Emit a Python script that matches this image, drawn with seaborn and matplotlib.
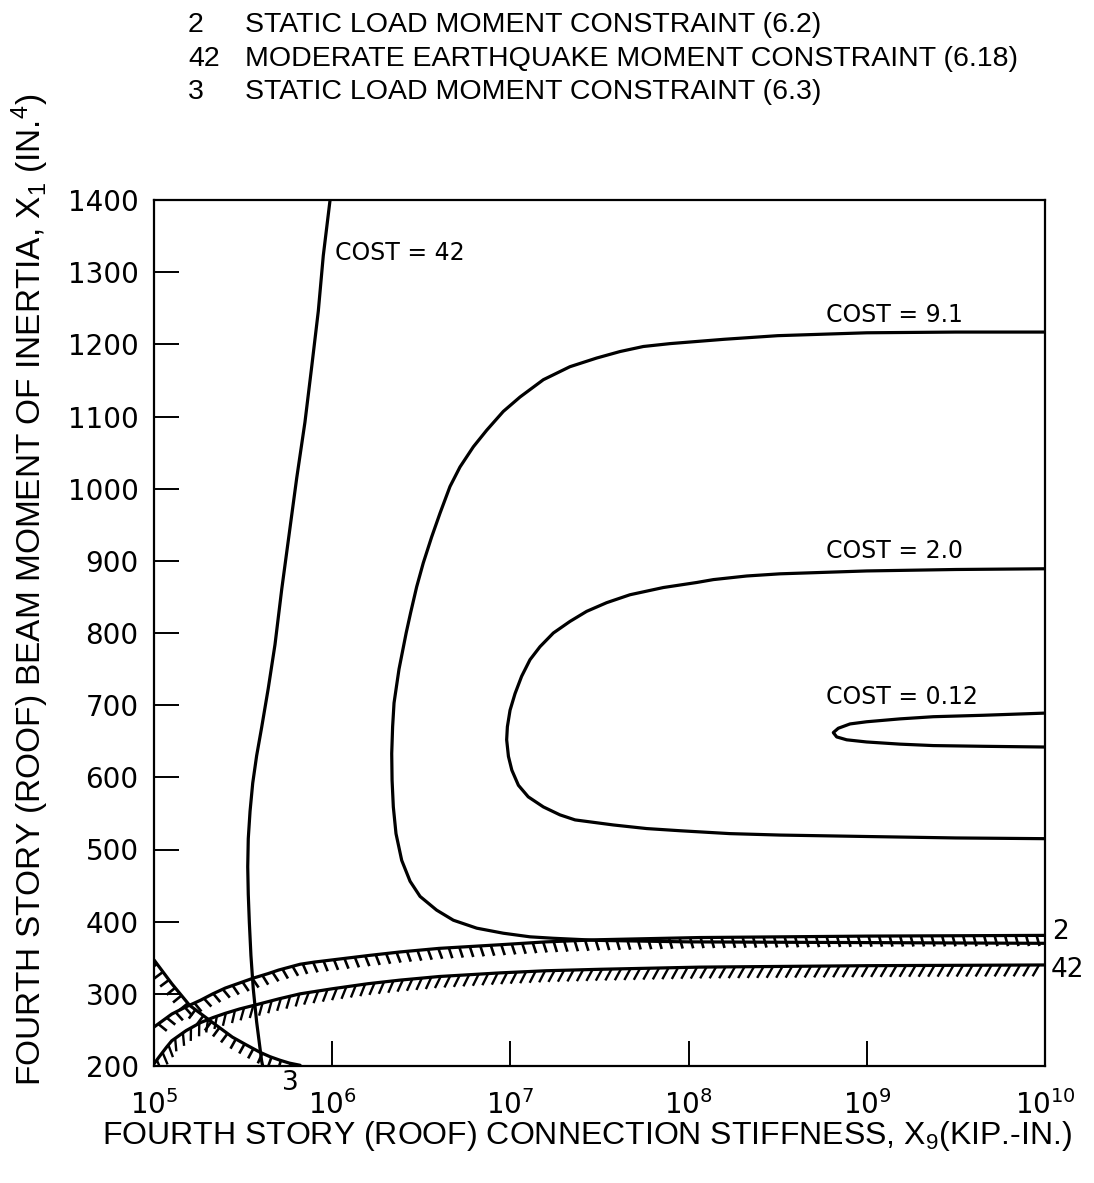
import numpy as np
import matplotlib
matplotlib.use("Agg")
import matplotlib.pyplot as plt
import matplotlib.transforms as mtransforms
from matplotlib.collections import LineCollection
import seaborn as sns

# ---------------- data (x given as log10 of stiffness) ----------------
cost42_logx = [5.61, 5.604, 5.576, 5.557, 5.544, 5.535, 5.529, 5.526, 5.529, 5.539, 5.554,
               5.576, 5.604, 5.641, 5.679, 5.717, 5.759, 5.801, 5.847, 5.885, 5.922, 5.95, 5.988]
cost42_y = [200, 207, 261, 307, 353, 399, 438, 476, 515, 553, 592,
            630, 669, 723, 784, 861, 938, 1015, 1092, 1169, 1246, 1323, 1400]

cost91_logx = [10.0, 9.5, 9.0, 8.5, 8.2, 7.896, 7.746, 7.615, 7.484, 7.334, 7.185, 7.054,
               6.96, 6.867, 6.792, 6.717, 6.661, 6.605, 6.558, 6.511, 6.474, 6.44, 6.415,
               6.395, 6.375, 6.36, 6.347, 6.339, 6.334, 6.336, 6.343, 6.358, 6.39, 6.437,
               6.493, 6.586, 6.68, 6.811, 6.96, 7.11, 7.241, 7.5, 8.0, 9.0, 10.0]
cost91_y = [1217, 1217, 1216, 1212, 1207, 1201, 1197, 1190, 1181, 1169, 1151, 1127,
            1107, 1081, 1058, 1030, 1003, 966, 933, 897, 864, 828, 800,
            775, 750, 725, 703, 670, 633, 596, 559, 522, 485, 456,
            435, 416, 402, 391, 384, 379, 377, 374, 372, 371, 370]

cost20_logx = [10.0, 9.5, 9.0, 8.513, 8.326, 8.139, 8.046, 7.858, 7.671, 7.54, 7.428, 7.334,
               7.241, 7.166, 7.11, 7.063, 7.026, 6.998, 6.983, 6.979, 6.989, 7.008, 7.045,
               7.1, 7.185, 7.278, 7.363, 7.578, 7.765, 7.952, 8.232, 8.513, 9.0, 9.5, 10.0]
cost20_y = [889, 888, 886, 882, 879, 874, 870, 863, 853, 842, 830, 816,
            800, 781, 763, 740, 716, 693, 670, 652, 629, 610, 589,
            573, 559, 548, 541, 534, 529, 526, 522, 520, 518, 516, 515]

cost012_logx = [10.0, 9.654, 9.373, 9.186, 8.999, 8.906, 8.84, 8.812, 8.831, 8.887, 8.999,
                9.186, 9.373, 9.654, 10.0]
cost012_y = [689, 686, 684, 681, 677, 674, 668, 662, 656, 652, 649, 646, 644, 643, 642]

con2_logx = [5.0, 5.05, 5.1, 5.18, 5.26, 5.33, 5.4, 5.48, 5.56, 5.64, 5.7, 5.82, 5.9, 6.0,
             6.2, 6.38, 6.6, 6.94, 7.2, 7.5, 8.06, 9.0, 10.0]
con2_y = [254, 263, 272, 282, 291, 300, 308, 315, 322, 328, 333, 341, 344, 347,
          353, 358, 363, 368, 372, 375, 378, 380, 381]

con42_logx = [5.0, 5.03, 5.07, 5.1, 5.18, 5.26, 5.33, 5.4, 5.48, 5.56, 5.7, 5.82, 6.0, 6.2,
              6.38, 6.6, 6.94, 7.2, 7.5, 8.06, 9.0, 10.0]
con42_y = [203, 213, 226, 235, 249, 260, 267, 273, 279, 284, 293, 300, 307, 314,
           319, 324, 329, 332, 334, 337, 339, 340]

con3_logx = [5.0, 5.1, 5.2, 5.33, 5.44, 5.52, 5.595, 5.65, 5.707, 5.76, 5.82]
con3_y = [347, 314, 284, 260, 240, 229, 219, 213, 208, 204, 201]

x_tick_exp = [5, 6, 7, 8, 9, 10]
y_ticks = [200, 300, 400, 500, 600, 700, 800, 900, 1000, 1100, 1200, 1300, 1400]

legend_nums = ["2", "42", "3"]
legend_texts = ["STATIC LOAD MOMENT CONSTRAINT (6.2)",
                "MODERATE EARTHQUAKE MOMENT CONSTRAINT (6.18)",
                "STATIC LOAD MOMENT CONSTRAINT (6.3)"]

# ---------------- style ----------------
sns.set_theme(style="white")
plt.rcParams['font.family'] = ['DejaVu Sans']
plt.rcParams['mathtext.default'] = 'regular'
plt.rcParams['text.color'] = 'black'
plt.rcParams['axes.labelcolor'] = 'black'
plt.rcParams['xtick.color'] = 'black'
plt.rcParams['ytick.color'] = 'black'
NARROW = ['Liberation Sans Narrow', 'Liberation Sans', 'DejaVu Sans']

W, H = 1094, 1183
fig = plt.figure(figsize=(W / 100, H / 100), dpi=100)
fig.patch.set_facecolor('white')
L, R, T, B = 154, 1045, 200, 1066
ax = fig.add_axes([L / W, 1 - B / H, (R - L) / W, (B - T) / H])
ax.set_facecolor('white')
ax.set_xscale('log')
ax.set_xlim(1e5, 1e10)
ax.set_ylim(200, 1400)

LW = 2.3


def curve(logx, y, lw=LW):
    sns.lineplot(x=10 ** np.asarray(logx, float), y=np.asarray(y, float), sort=False,
                 estimator=None, color='black', lw=lw, ax=ax)


def hatch(logx, y, spacing=10.0, length=9.0, tilt=0.0, lw=1.9):
    pts = ax.transData.transform(np.column_stack([10 ** np.asarray(logx, float),
                                                  np.asarray(y, float)]))
    d = np.hypot(*np.diff(pts, axis=0).T)
    s = np.concatenate([[0], np.cumsum(d)])
    ss = np.arange(spacing / 2, s[-1], spacing)
    idx = np.clip(np.searchsorted(s, ss) - 1, 0, len(d) - 1)
    px = np.interp(ss, s, pts[:, 0])
    py = np.interp(ss, s, pts[:, 1])
    tx = (pts[idx + 1, 0] - pts[idx, 0]) / d[idx]
    ty = (pts[idx + 1, 1] - pts[idx, 1]) / d[idx]
    nx, ny = ty, -tx  # normal on the right-hand (lower) side
    a = np.deg2rad(tilt)
    dx = nx * np.cos(a) - ny * np.sin(a)
    dy = nx * np.sin(a) + ny * np.cos(a)
    segs = [[(x0, y0), (x0 + length * ux, y0 + length * uy)]
            for x0, y0, ux, uy in zip(px, py, dx, dy)]
    lc = LineCollection(segs, colors='black', linewidths=lw,
                        transform=mtransforms.IdentityTransform())
    lc.set_clip_path(ax.patch)
    ax.add_collection(lc)


curve(cost42_logx, cost42_y)
curve(cost91_logx, cost91_y)
curve(cost20_logx, cost20_y)
curve(cost012_logx, cost012_y)
curve(con2_logx, con2_y)
curve(con42_logx, con42_y)
curve(con3_logx, con3_y)

hatch(con2_logx, con2_y, spacing=10.5, length=11, tilt=15)
hatch(con42_logx, con42_y, spacing=9.5, length=13, tilt=-30, lw=1.7)
hatch(con3_logx, con3_y, spacing=10, length=11, tilt=0)

ax.set_xlim(1e5, 1e10)
ax.set_ylim(200, 1400)

# ---------------- axes, ticks ----------------
ax.set_xticks([10.0 ** e for e in x_tick_exp])
ax.set_xticklabels([f"$10^{{{e}}}$" for e in x_tick_exp])
ax.minorticks_off()
ax.set_yticks(y_ticks)
ax.set_yticklabels([str(v) for v in y_ticks])
ax.tick_params(axis='both', direction='in', length=18, width=1.4, color='black',
               labelsize=20, labelcolor='black')
ax.tick_params(axis='y', pad=11, left=True, right=False)
ax.tick_params(axis='x', pad=17, bottom=True, top=False, labelsize=20)
for sp in ax.spines.values():
    sp.set_visible(True)
    sp.set_color('black')
    sp.set_linewidth(1.6)
ax.grid(False)
ax.set_xlabel('')
ax.set_ylabel('')

# ---------------- annotations ----------------
ax.text(10 ** 6.016, 1326, "COST = 42", ha='left', va='center', fontsize=17, color='black')
ax.text(10 ** 8.77, 1240, "COST = 9.1", ha='left', va='center', fontsize=17, color='black')
ax.text(10 ** 8.77, 914, "COST = 2.0", ha='left', va='center', fontsize=17, color='black')
ax.text(10 ** 8.77, 711, "COST = 0.12", ha='left', va='center', fontsize=17, color='black')
ax.text(1.008, 386, "2", transform=ax.get_yaxis_transform(), ha='left', va='center',
        fontsize=19, color='black', clip_on=False)
ax.text(1.006, 333, "42", transform=ax.get_yaxis_transform(), ha='left', va='center',
        fontsize=19, color='black', clip_on=False)
ax.text(10 ** 5.763, -0.02, "3", transform=ax.get_xaxis_transform(), ha='center',
        va='center', fontsize=19, color='black', clip_on=False)

# legend-like header
for i, (n, t) in enumerate(zip(legend_nums, legend_texts)):
    yy = 1 - (25 + 33.5 * i) / H
    fig.text(188 / W, yy, n, ha='left', va='center', fontsize=20.5, family=NARROW,
             color='black')
    fig.text(245 / W, yy, t, ha='left', va='center', fontsize=20.5, family=NARROW,
             color='black')

fig.text(587 / W, 1 - 1136 / H,
         "FOURTH STORY (ROOF) CONNECTION STIFFNESS, X$_9$(KIP.-IN.)",
         ha='center', va='center', fontsize=23, family=NARROW, color='black')
fig.text(30 / W, 1 - 590 / H,
         "FOURTH STORY (ROOF) BEAM MOMENT OF INERTIA, X$_1$ (IN.$^4$)",
         ha='center', va='center', rotation=90, fontsize=24, family=NARROW, color='black')

fig.savefig("out.png", dpi=100, facecolor='white')
